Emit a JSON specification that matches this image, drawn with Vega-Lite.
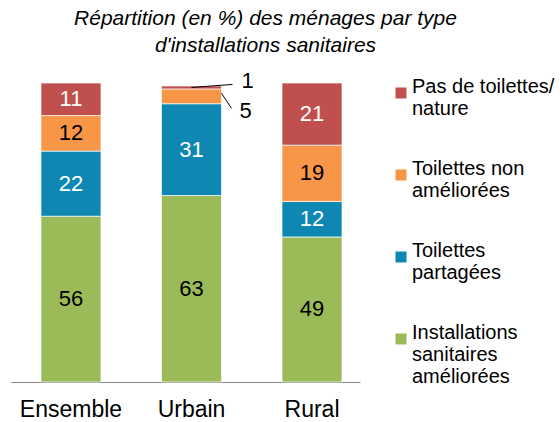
{
  "$schema": "https://vega.github.io/schema/vega-lite/v6.json",
  "width": 349,
  "height": 299,
  "autosize": "none",
  "padding": {"left": 11, "top": 83, "right": 200, "bottom": 40},
  "background": "white",
  "config": {
    "view": {"stroke": null},
    "font": "Liberation Sans"
  },
  "title": {
    "text": ["Répartition (en %) des ménages par type", "d'installations sanitaires"],
    "font": "Liberation Sans",
    "fontSize": 21,
    "fontStyle": "italic",
    "fontWeight": "normal",
    "color": "#000000",
    "anchor": "middle",
    "frame": "group",
    "dx": 80,
    "lineHeight": 27,
    "offset": 14
  },
  "data": {
    "values": [
      {"zone": "Ensemble", "type": "Installations sanitaires améliorées", "valeur": 56, "ordre": 1},
      {"zone": "Ensemble", "type": "Toilettes partagées", "valeur": 22, "ordre": 2},
      {"zone": "Ensemble", "type": "Toilettes non améliorées", "valeur": 12, "ordre": 3},
      {"zone": "Ensemble", "type": "Pas de toilettes/ nature", "valeur": 11, "ordre": 4},
      {"zone": "Urbain", "type": "Installations sanitaires améliorées", "valeur": 63, "ordre": 1},
      {"zone": "Urbain", "type": "Toilettes partagées", "valeur": 31, "ordre": 2},
      {"zone": "Urbain", "type": "Toilettes non améliorées", "valeur": 5, "ordre": 3},
      {"zone": "Urbain", "type": "Pas de toilettes/ nature", "valeur": 1, "ordre": 4},
      {"zone": "Rural", "type": "Installations sanitaires améliorées", "valeur": 49, "ordre": 1},
      {"zone": "Rural", "type": "Toilettes partagées", "valeur": 12, "ordre": 2},
      {"zone": "Rural", "type": "Toilettes non améliorées", "valeur": 19, "ordre": 3},
      {"zone": "Rural", "type": "Pas de toilettes/ nature", "valeur": 21, "ordre": 4}
    ]
  },
  "transform": [
    {"stack": "valeur", "groupby": ["zone"], "sort": [{"field": "ordre", "order": "ascending"}], "as": ["v0", "v1"]},
    {"calculate": "(datum.v0 + datum.v1) / 2", "as": "mid"}
  ],
  "encoding": {
    "x": {
      "field": "zone",
      "type": "nominal",
      "sort": ["Ensemble", "Urbain", "Rural"],
      "scale": {"paddingInner": 0.502, "paddingOuter": 0.199},
      "axis": {
        "title": null,
        "labelAngle": 0,
        "labelFont": "Liberation Sans",
        "labelFontSize": 23,
        "labelColor": "#000000",
        "labelPadding": 16,
        "labelOffset": 6,
        "ticks": false,
        "domainColor": "#888888",
        "domainWidth": 1
      }
    }
  },
  "layer": [
    {
      "mark": {"type": "bar", "xOffset": 6, "stroke": "white", "strokeWidth": 0.7},
      "encoding": {
        "y": {"field": "v0", "type": "quantitative", "scale": {"domain": [0, 101], "nice": false}, "axis": null},
        "y2": {"field": "v1"},
        "color": {
          "field": "type",
          "type": "nominal",
          "scale": {
            "domain": ["Pas de toilettes/ nature", "Toilettes non améliorées", "Toilettes partagées", "Installations sanitaires améliorées"],
            "range": ["#C0504D", "#F79646", "#0F87B3", "#9BBB59"]
          },
          "legend": {
            "title": null,
            "orient": "none",
            "legendX": 380,
            "legendY": 0,
            "symbolType": "square",
            "symbolSize": 121,
            "symbolStrokeWidth": 0,
            "labelFont": "Liberation Sans",
            "labelFontSize": 20,
            "labelColor": "#000000",
            "labelOffset": 1,
            "labelLimit": 300,
            "labelBaseline": "alphabetic",
            "rowPadding": 40,
            "labelExpr": "datum.label == 'Pas de toilettes/ nature' ? ['Pas de toilettes/', 'nature'] : datum.label == 'Toilettes non améliorées' ? ['Toilettes non', 'améliorées'] : datum.label == 'Toilettes partagées' ? ['Toilettes', 'partagées'] : ['Installations', 'sanitaires', 'améliorées']",
            "encode": {
              "labels": {"update": {"dy": {"value": 7}, "lineHeight": {"value": 23}}}
            }
          }
        }
      }
    },
    {
      "transform": [{"filter": "datum.valeur >= 10"}],
      "mark": {"type": "text", "xOffset": 6, "font": "Liberation Sans", "fontSize": 22, "baseline": "middle", "align": "center"},
      "encoding": {
        "y": {"field": "mid", "type": "quantitative"},
        "text": {"field": "valeur", "type": "quantitative"},
        "color": {
          "condition": {"test": "datum.type == 'Pas de toilettes/ nature' || datum.type == 'Toilettes partagées'", "value": "#FFFFFF"},
          "value": "#000000"
        }
      }
    },
    {
      "transform": [{"filter": "datum.zone == 'Urbain' && datum.type == 'Pas de toilettes/ nature'"}],
      "mark": {"type": "text", "xOffset": 62, "yOffset": -6, "font": "Liberation Sans", "fontSize": 22, "baseline": "middle", "align": "center", "color": "#000000"},
      "encoding": {
        "y": {"field": "mid", "type": "quantitative"},
        "text": {"field": "valeur", "type": "quantitative"}
      }
    },
    {
      "transform": [{"filter": "datum.zone == 'Urbain' && datum.type == 'Toilettes non améliorées'"}],
      "mark": {"type": "text", "xOffset": 60, "yOffset": 15, "font": "Liberation Sans", "fontSize": 22, "baseline": "middle", "align": "center", "color": "#000000"},
      "encoding": {
        "y": {"field": "mid", "type": "quantitative"},
        "text": {"field": "valeur", "type": "quantitative"}
      }
    },
    {
      "transform": [{"filter": "datum.zone == 'Urbain' && datum.type == 'Pas de toilettes/ nature'"}],
      "mark": {"type": "rule", "xOffset": 6, "x2Offset": 47, "y2Offset": -3, "color": "#000000", "strokeWidth": 1},
      "encoding": {
        "y": {"field": "mid", "type": "quantitative"},
        "y2": {"field": "mid"},
        "x2": {"field": "zone"}
      }
    },
    {
      "transform": [{"filter": "datum.zone == 'Urbain' && datum.type == 'Toilettes non améliorées'"}],
      "mark": {"type": "rule", "xOffset": 36, "x2Offset": 46, "yOffset": -3, "y2Offset": 12, "color": "#000000", "strokeWidth": 1},
      "encoding": {
        "y": {"field": "mid", "type": "quantitative"},
        "y2": {"field": "mid"},
        "x2": {"field": "zone"}
      }
    }
  ]
}
